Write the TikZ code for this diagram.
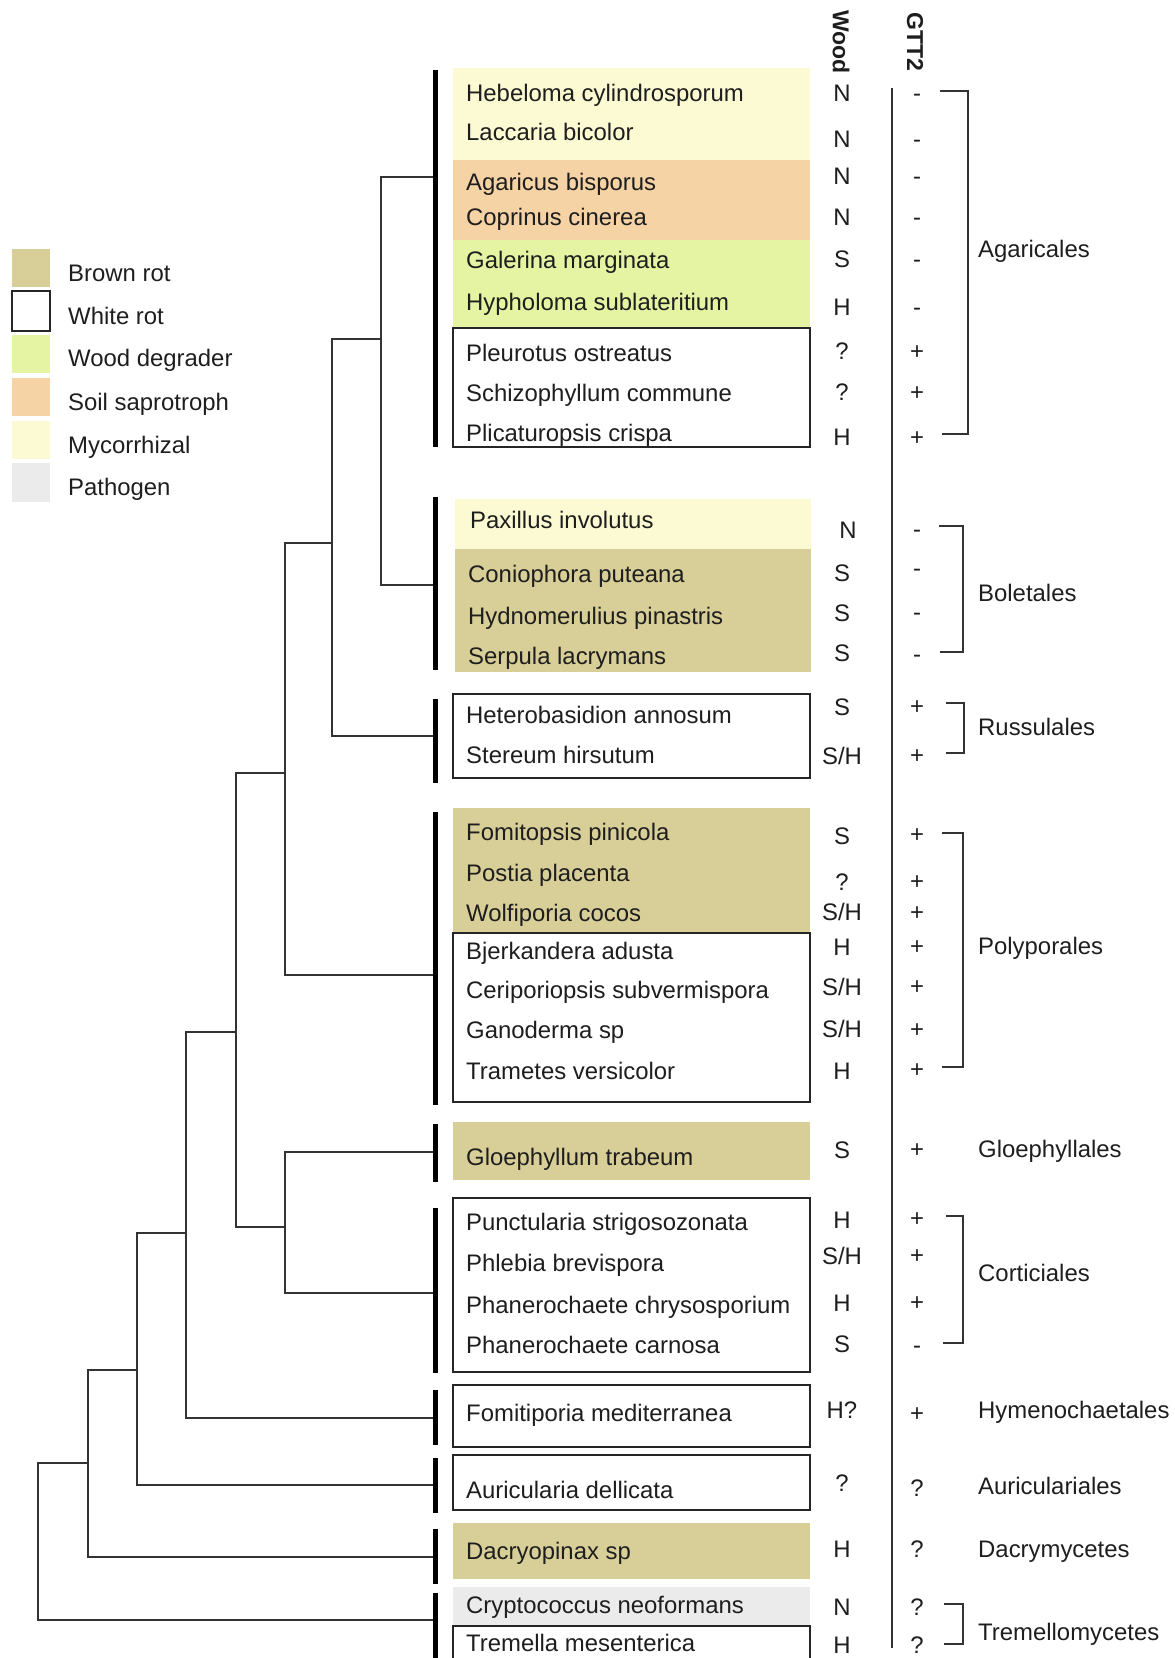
\documentclass[tikz,border=0pt]{standalone}
\usepackage{fontspec}
\setmainfont{Liberation Sans}
\definecolor{brownrot}{RGB}{216,206,152}
\definecolor{wooddeg}{RGB}{229,244,163}
\definecolor{soilsap}{RGB}{246,211,165}
\definecolor{mycorr}{RGB}{252,250,210}
\definecolor{pathog}{RGB}{235,235,235}
\definecolor{inkc}{RGB}{30,30,30}
\begin{document}
\begin{tikzpicture}[x=1pt,y=-1pt,
  tree/.style={line width=1.6pt, draw=black!80},
  barline/.style={line width=5pt, draw=black},
  boxed/.style={draw=black!85, line width=1.6pt},
  brk/.style={line width=1.8pt, draw=black!80},
  tx/.style={anchor=west, inner sep=0pt, text height=17.1pt, text depth=0pt, text=inkc, font=\fontsize{23.9}{28}\selectfont},
  val/.style={anchor=center, inner sep=0pt, text height=17.1pt, text depth=0pt, text=inkc, font=\fontsize{23.9}{28}\selectfont},
  hdr/.style={anchor=center, inner sep=0pt, rotate=-90, text=inkc, font=\fontsize{23}{28}\selectfont\bfseries}]
\useasboundingbox (0,0) rectangle (1175,1658);
\clip (0,0) rectangle (1175,1658);

% ---------- legend ----------
\fill[brownrot] (12,249) rectangle (50,287);
\filldraw[fill=white, draw=black!85, line width=1.6pt] (12,291) rectangle (50,331);
\fill[wooddeg] (12,335) rectangle (50,373);
\fill[soilsap] (12,378) rectangle (50,416);
\fill[mycorr] (12,421) rectangle (50,459);
\fill[pathog] (12,463) rectangle (50,502);
\node[tx] (lg1) at (68,273) {Brown rot};
\node[tx] (lg2) at (68,316) {White rot};
\node[tx] (lg3) at (68,358) {Wood degrader};
\node[tx] (lg4) at (68,402) {Soil saprotroph};
\node[tx] (lg5) at (68,445) {Mycorrhizal};
\node[tx] (lg6) at (68,487) {Pathogen};

% ---------- headers ----------
\node[hdr] (hwood) at (841,42) {Wood};
\node[hdr] (hgtt) at (915,42) {GTT2};

% ---------- species bands ----------
\fill[mycorr] (453,68) rectangle (810,160);
\fill[soilsap] (453,160) rectangle (810,240);
\fill[wooddeg] (453,240) rectangle (810,328);
\draw[boxed, fill=white] (453,328) rectangle (810,447);
\fill[mycorr] (455,499) rectangle (811,549);
\fill[brownrot] (455,549) rectangle (811,672);
\draw[boxed, fill=white] (453,694) rectangle (810,778);
\fill[brownrot] (453,808) rectangle (810,933);
\draw[boxed, fill=white] (453,933) rectangle (810,1102);
\fill[brownrot] (453,1122) rectangle (810,1180);
\draw[boxed, fill=white] (453,1198) rectangle (810,1372);
\draw[boxed, fill=white] (453,1385) rectangle (810,1447);
\draw[boxed, fill=white] (453,1455) rectangle (810,1510);
\fill[brownrot] (453,1523) rectangle (810,1579);
\fill[pathog] (453,1587) rectangle (810,1626);
\draw[boxed, fill=white] (453,1626) rectangle (810,1680);

% ---------- species, wood, GTT2 ----------
\foreach \i/\tx/\yy/\nm/\wx/\wv/\wy/\gv/\gy in {
  1/466/93/Hebeloma cylindrosporum/842/N/93/-/93,
  2/466/132/Laccaria bicolor/842/N/139/-/139,
  3/466/182/Agaricus bisporus/842/N/176/-/176,
  4/466/217/Coprinus cinerea/842/N/217/-/217,
  5/466/260/Galerina marginata/842/S/259/-/259,
  6/466/302/Hypholoma sublateritium/842/H/307/-/307,
  7/466/353/Pleurotus ostreatus/842/?/351/+/351,
  8/466/393/Schizophyllum commune/842/?/392/+/392,
  9/466/433/Plicaturopsis crispa/842/H/437/+/437,
  10/470/520/Paxillus involutus/848/N/530/-/529,
  11/468/574/Coniophora puteana/842/S/573/-/568,
  12/468/616/Hydnomerulius pinastris/842/S/613/-/612,
  13/468/656/Serpula lacrymans/842/S/653/-/654,
  14/466/715/Heterobasidion annosum/842/S/707/+/706,
  15/466/755/Stereum hirsutum/842/{S/H}/756/+/755,
  16/466/832/Fomitopsis pinicola/842/S/836/+/834,
  17/466/873/Postia placenta/842/?/882/+/881,
  18/466/913/Wolfiporia cocos/842/{S/H}/912/+/912,
  19/466/951/Bjerkandera adusta/842/H/947/+/946,
  20/466/990/Ceriporiopsis subvermispora/842/{S/H}/987/+/986,
  21/466/1030/Ganoderma sp/842/{S/H}/1029/+/1029,
  22/466/1071/Trametes versicolor/842/H/1071/+/1069,
  23/466/1157/Gloephyllum trabeum/842/S/1150/+/1149,
  24/466/1222/Punctularia strigosozonata/842/H/1220/+/1218,
  25/466/1263/Phlebia brevispora/842/{S/H}/1256/+/1255,
  26/466/1305/Phanerochaete chrysosporium/842/H/1303/+/1302,
  27/466/1345/Phanerochaete carnosa/842/S/1344/-/1345,
  28/466/1413/Fomitiporia mediterranea/842/H?/1410/+/1413,
  29/466/1490/Auricularia dellicata/842/?/1483/?/1488,
  30/466/1551/Dacryopinax sp/842/H/1549/?/1549,
  31/466/1605/Cryptococcus neoformans/842/N/1607/?/1607,
  32/466/1643/Tremella mesenterica/842/H/1645/?/1645}{
  \node[tx] (sp\i) at (\tx,\yy) {\nm};
  \node[val] (wd\i) at (\wx,\wy) {\wv};
  \node[val] (gt\i) at (917,\gy) {\gv};
}

% ---------- GTT2 separator line ----------
\coordinate (sepT) at (892,88);
\coordinate (sepB) at (892,1648);
\draw[line width=2pt, draw=black!80] (sepT) -- (sepB);

% ---------- clade bars ----------
\foreach \nm/\ta/\tb/\ya in {ag/70/447/177, bo/497/670/585, ru/699/783/736, po/812/1105/975,
  gl/1124/1182/1152, co/1208/1373/1293, hy/1390/1445/1418, au/1458/1513/1485,
  da/1529/1584/1557, tr/1593/1680/1620}{
  \coordinate (\nm T) at (435,\ta);
  \coordinate (\nm B) at (435,\tb);
  \coordinate (\nm A) at (433,\ya);
  \draw[barline] (\nm T) -- (\nm B);
}

% ---------- tree ----------
\coordinate (n1) at (381,339);
\coordinate (n2) at (332,543);
\coordinate (n3) at (285,773);
\coordinate (n4) at (285,1227);
\coordinate (n5) at (236,1032);
\coordinate (n6) at (186,1233);
\coordinate (n7) at (137,1370);
\coordinate (n8) at (88,1463);
\coordinate (n9) at (38,1540);
\draw[tree] (agA) -| (n1) |- (boA);
\draw[tree] (n1) -| (n2) |- (ruA);
\draw[tree] (n2) -| (n3) |- (poA);
\draw[tree] (glA) -| (n4) |- (coA);
\draw[tree] (n3) -| (n5) |- (n4);
\draw[tree] (n5) -| (n6) |- (hyA);
\draw[tree] (n6) -| (n7) |- (auA);
\draw[tree] (n7) -| (n8) |- (daA);
\draw[tree] (n8) -| (n9) |- (trA);

% ---------- brackets and order labels ----------
\draw[brk] (940,91) -- (968,91) -- (968,434) -- (942,434);
\draw[brk] (939,526) -- (963,526) -- (963,652) -- (940,652);
\draw[brk] (946,703) -- (964,703) -- (964,753) -- (946,753);
\draw[brk] (942,833) -- (963,833) -- (963,1067) -- (942,1067);
\draw[brk] (946,1216) -- (963,1216) -- (963,1343) -- (943,1343);
\draw[brk] (944,1604) -- (963,1604) -- (963,1644) -- (944,1644);
\node[tx] (o1) at (978,249) {Agaricales};
\node[tx] (o2) at (978,593) {Boletales};
\node[tx] (o3) at (978,727) {Russulales};
\node[tx] (o4) at (978,946) {Polyporales};
\node[tx] (o5) at (978,1149) {Gloephyllales};
\node[tx] (o6) at (978,1273) {Corticiales};
\node[tx] (o7) at (978,1410) {Hymenochaetales};
\node[tx] (o8) at (978,1486) {Auriculariales};
\node[tx] (o9) at (978,1549) {Dacrymycetes};
\node[tx] (o10) at (978,1632) {Tremellomycetes};
\end{tikzpicture}
\end{document}
